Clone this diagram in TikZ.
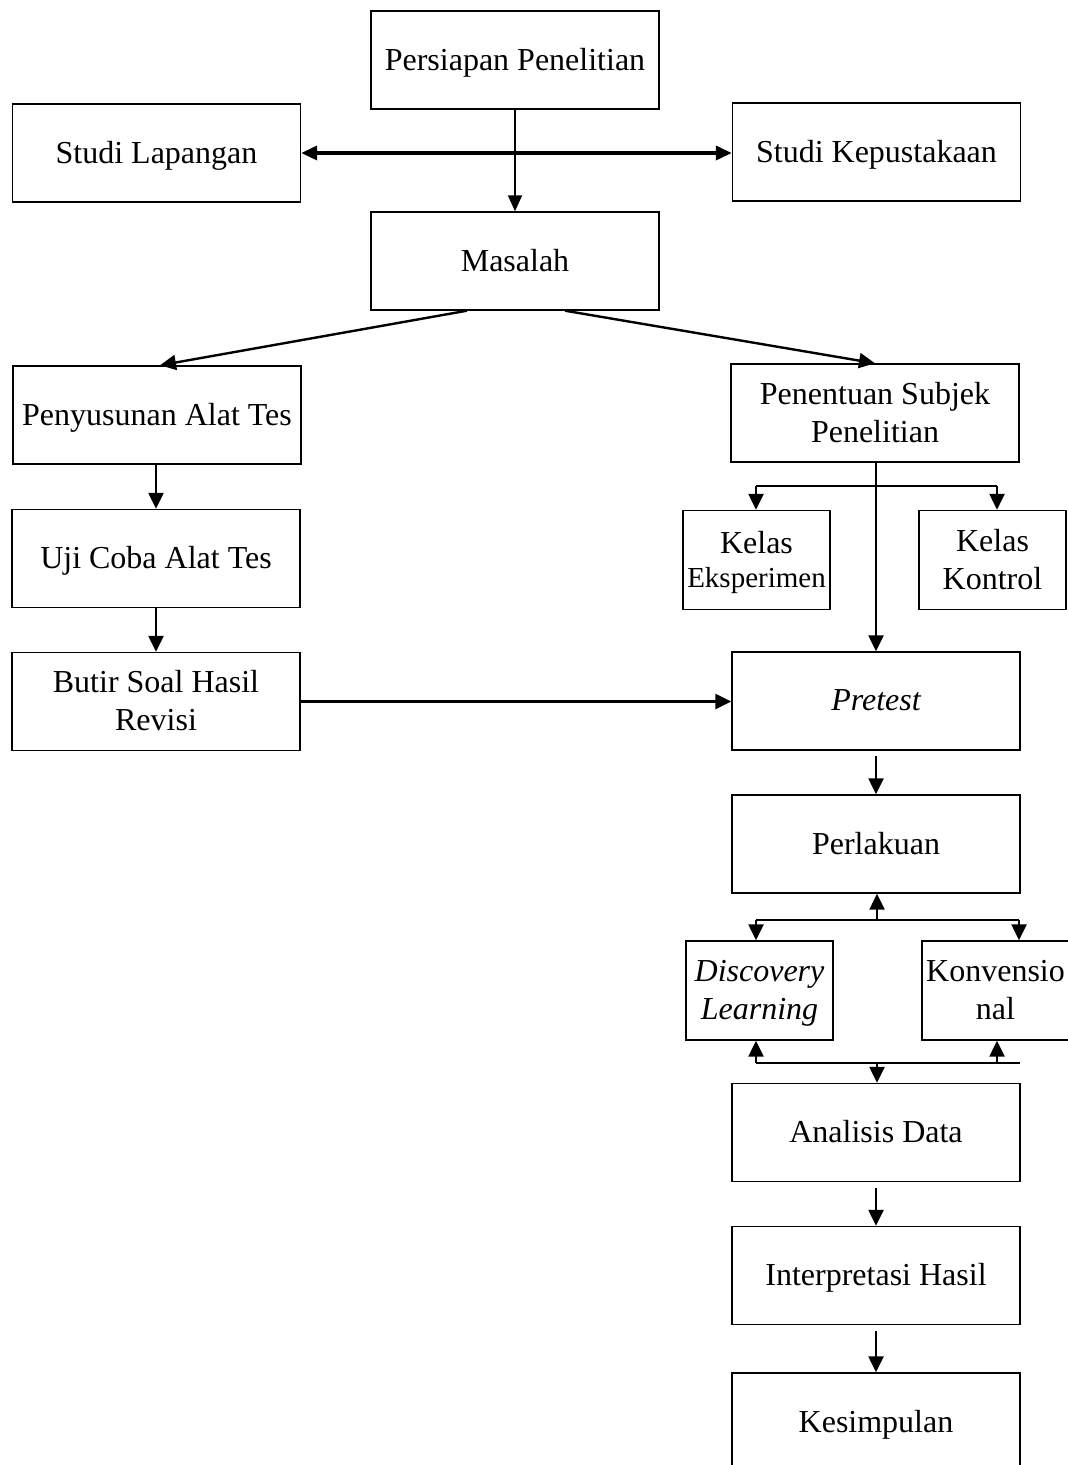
\documentclass[tikz,border=0pt]{standalone}
\usepackage{fontspec}
\setmainfont{Liberation Serif}
\usetikzlibrary{arrows.meta}
\begin{document}
\begin{tikzpicture}[x=0.5pt,y=-0.5pt,
  box/.style={draw,line width=0.7pt,minimum width=144pt,minimum height=49pt,inner sep=2pt,text depth=1pt,align=center,font=\fontsize{16}{19}\selectfont},
  sbox/.style={box,minimum width=73.5pt,minimum height=49.5pt},
  arr/.style={line width=1.2pt,-{Triangle[length=8pt,width=7.5pt]}},
  thinarr/.style={line width=0.9pt,-{Triangle[length=8pt,width=7pt]}},
  dblarr/.style={line width=1.8pt,{Triangle[length=8pt,width=7pt]}-{Triangle[length=8pt,width=7pt]}},
  ln/.style={line width=1pt}]
\useasboundingbox (0,0) rectangle (1067,1465);

\node[box] (per) at (515,60) {Persiapan Penelitian};
\node[box] (sl) at (156.5,153) {Studi Lapangan};
\node[box] (sk) at (876.5,152) {Studi Kepustakaan};
\node[box] (mas) at (515,261) {Masalah};
\node[box] (pen) at (157,415) {Penyusunan Alat Tes};
\node[box] (pst) at (875,413) {Penentuan Subjek\\Penelitian};
\node[box] (uji) at (156,558.5) {Uji Coba Alat Tes};
\node[sbox] (eks) at (756.5,560) {Kelas\\[-2pt]{\fontsize{14.5}{17}\selectfont Eksperimen}};
\node[sbox] (kon) at (992.5,560) {Kelas\\Kontrol};
\node[box] (but) at (156,701.5) {Butir Soal Hasil\\Revisi};
\node[box] (pre) at (876,701) {\itshape Pretest};
\node[box] (prl) at (876,844) {Perlakuan};
\node[sbox] (dis) at (759.5,990.5) {\itshape Discovery\\\itshape Learning};
\node[sbox] (kv) at (995.5,990.5) {Konvensio\\nal};
\node[box] (ana) at (876,1132.5) {Analisis Data};
\node[box] (int) at (876,1275.5) {Interpretasi Hasil};
\node[box] (kes) at (876,1422) {Kesimpulan};

% top part
\draw[thinarr] (per.south) -- (mas.north);
\draw[dblarr] (sl.east) -- (sl.east -| sk.west);
\draw[arr] ([xshift=-24pt]mas.south) -- ([xshift=1.5pt]pen.north);
\draw[arr] ([xshift=25pt]mas.south) -- (pst.north);

% left column
\draw[arr] (uji.north |- pen.south) -- (uji.north);
\draw[arr] (uji.south) -- (but.north);
\draw[arr] (but.east) -- (but.east -| pre.west);

% subject branch
\draw[arr] (pst.south -| pre.north) -- (pre.north);
\coordinate (kb) at (876,486);
\coordinate (kl) at (756,486);
\coordinate (kr) at (997,486);
\draw[ln] (kl) -- (kr);
\draw[arr] (kl) -- (kl |- eks.north);
\draw[arr] (kr) -- (kr |- kon.north);

\draw[arr] ([yshift=-2.5pt]pre.south) -- (prl.north);

% treatment branch
\coordinate (pb) at (877,920);
\coordinate (pl) at (756,920);
\coordinate (pr) at (1019,920);
\draw[ln] (pl) -- (pr);
\draw[arr] (pb) -- (pb |- prl.south);
\draw[arr] (pl) -- (pl |- dis.north);
\draw[arr] (pr) -- (pr |- kv.north);

\coordinate (ql) at (756,1063);
\coordinate (qr) at (1020,1063);
\coordinate (qk) at (997,1063);
\coordinate (qm) at (877,1063);
\draw[ln] (ql) -- (qr);
\draw[arr] (ql) -- (ql |- dis.south);
\draw[arr] (qk) -- (qk |- kv.south);
\draw[arr] (qm) -- (qm |- ana.north);

\draw[arr] ([yshift=-3pt]ana.south) -- (int.north);
\draw[arr] ([yshift=-3pt]int.south) -- (kes.north);
\end{tikzpicture}
\end{document}
